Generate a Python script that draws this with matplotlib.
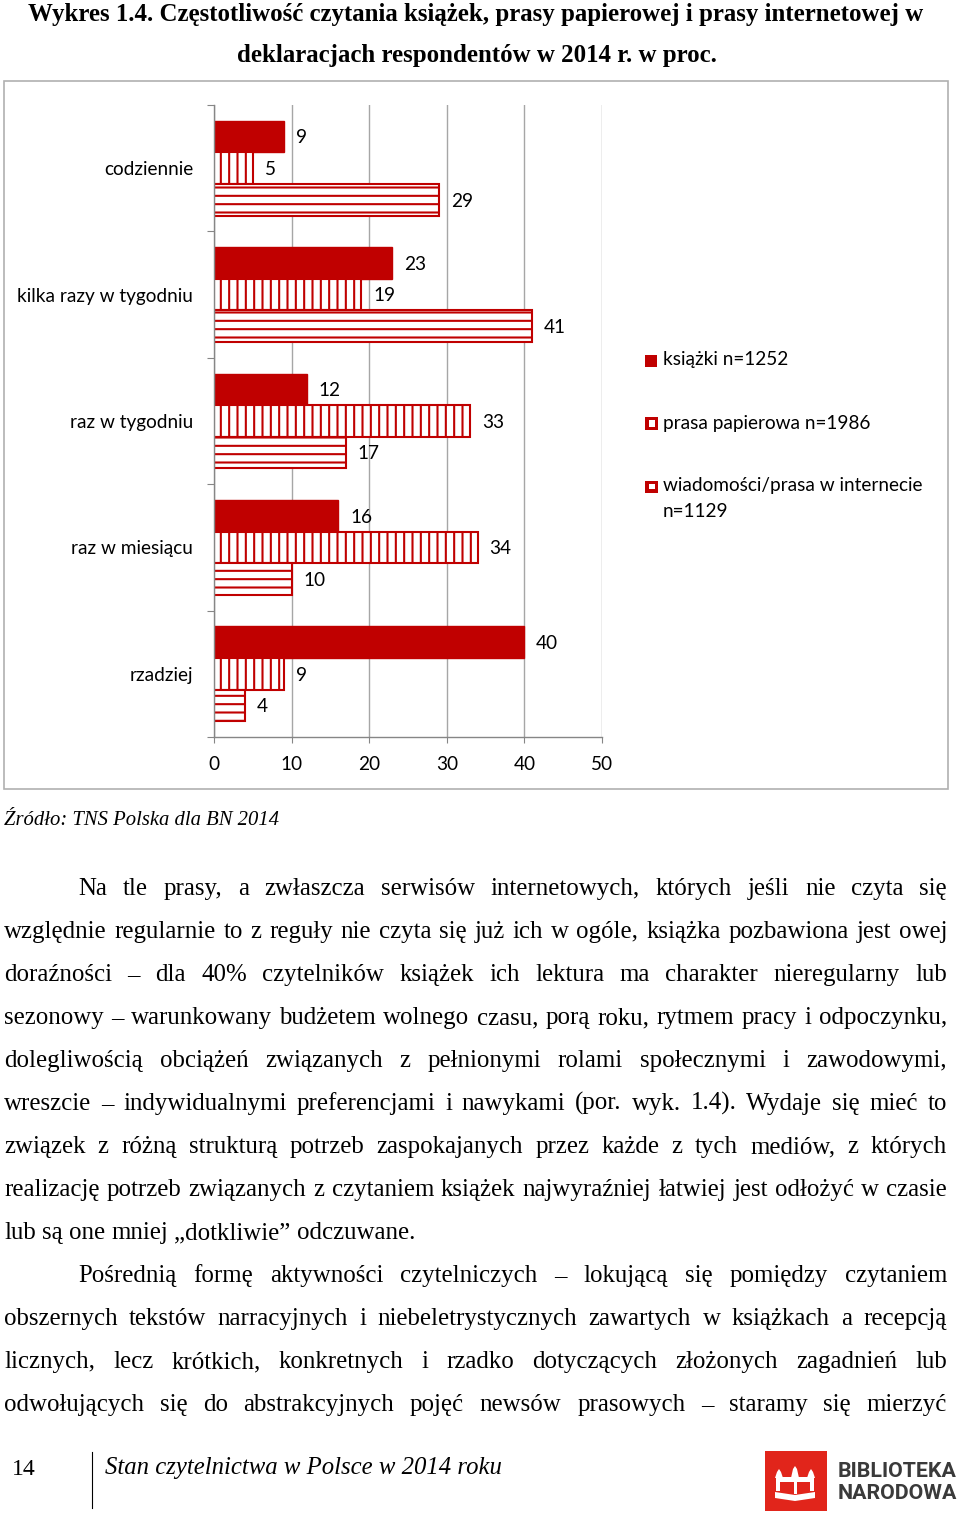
import matplotlib
matplotlib.use("Agg")
import matplotlib.pyplot as plt
from matplotlib.patches import Rectangle, Polygon
import numpy as np

# data
categories = ["codziennie", "kilka razy w tygodniu", "raz w tygodniu", "raz w miesiącu", "rzadziej"]
ksiazki = [9, 23, 12, 16, 40]
prasa = [5, 19, 33, 34, 9]
internet = [29, 41, 17, 10, 4]
series_labels = ["książki n=1252", "prasa papierowa n=1986", "wiadomości/prasa w internecie\nn=1129"]
x_ticks = [0, 10, 20, 30, 40, 50]

title_lines = ["Wykres 1.4. Częstotliwość czytania książek, prasy papierowej i prasy internetowej w",
               "deklaracjach respondentów w 2014 r. w proc."]
source = "Źródło: TNS Polska dla BN 2014"
body = [
    (True, True, "Na tle prasy, a zwłaszcza serwisów internetowych, których jeśli nie czyta się"),
    (False, True, "względnie regularnie to z reguły nie czyta się już ich w ogóle, książka pozbawiona jest owej"),
    (False, True, "doraźności – dla 40% czytelników książek ich lektura ma charakter nieregularny lub"),
    (False, True, "sezonowy – warunkowany budżetem wolnego czasu, porą roku, rytmem pracy i odpoczynku,"),
    (False, True, "dolegliwością obciążeń związanych z pełnionymi rolami społecznymi i zawodowymi,"),
    (False, True, "wreszcie – indywidualnymi preferencjami i nawykami (por. wyk. 1.4). Wydaje się mieć to"),
    (False, True, "związek z różną strukturą potrzeb zaspokajanych przez każde z tych mediów, z których"),
    (False, True, "realizację potrzeb związanych z czytaniem książek najwyraźniej łatwiej jest odłożyć w czasie"),
    (False, False, "lub są one mniej „dotkliwie” odczuwane."),
    (True, True, "Pośrednią formę aktywności czytelniczych – lokującą się pomiędzy czytaniem"),
    (False, True, "obszernych tekstów narracyjnych i niebeletrystycznych zawartych w książkach a recepcją"),
    (False, True, "licznych, lecz krótkich, konkretnych i rzadko dotyczących złożonych zagadnień lub"),
    (False, True, "odwołujących się do abstrakcyjnych pojęć newsów prasowych – staramy się mierzyć"),
]
footer_page = "14"
footer_title = "Stan czytelnictwa w Polsce w 2014 roku"
logo_lines = ["BIBLIOTEKA", "NARODOWA"]

RED = "#C00000"
W, H = 960, 1513
plt.rcParams["hatch.linewidth"] = 1.5

fig = plt.figure(figsize=(W / 100, H / 100), dpi=100)
fig.patch.set_facecolor("white")
renderer = fig.canvas.get_renderer()


def px(x, y):
    return x / W, 1 - y / H


def rect(x0, y0, x1, y1, **kw):
    r = Rectangle(px(x0, y1), (x1 - x0) / W, (y1 - y0) / H, transform=fig.transFigure, **kw)
    fig.add_artist(r)
    return r


def text_width(s, **kw):
    t = fig.text(0, 0, s, **kw)
    w = t.get_window_extent(renderer).width
    t.remove()
    return w


def fit_size(s, target, **kw):
    return 10 * target / text_width(s, fontsize=10, **kw)


# chart frame
rect(4, 81, 948, 789, facecolor="none", edgecolor="#B0B0B0", lw=1.2)

chart_font = "Lato"
cs = fit_size("kilka razy w tygodniu", 176, family=chart_font)

ax = fig.add_axes([214 / W, 1 - 737 / H, (602 - 214) / W, (737 - 105) / H])
y = np.arange(len(categories))
h = 0.25
ax.barh(y - h, ksiazki, height=h, color=RED, edgecolor=RED, lw=1.0)
ax.barh(y, prasa, height=h, facecolor="white", edgecolor=RED, hatch="||", lw=1.5)
ax.barh(y + h, internet, height=h, facecolor="white", edgecolor=RED, hatch="--", lw=1.5)

for vals, off in [(ksiazki, -h), (prasa, 0), (internet, h)]:
    for yi, v in zip(y, vals):
        ax.annotate(str(v), (v, yi + off), xytext=(8.5, -1), textcoords="offset points",
                    ha="left", va="center", fontsize=cs, family=chart_font)

ax.set_xlim(0, 50)
ax.set_ylim(4.5, -0.5)
ax.set_xticks(x_ticks)
ax.set_xticklabels([str(t) for t in x_ticks], fontsize=cs, family=chart_font)
ax.set_yticks(np.arange(-0.5, 5, 1))
ax.set_yticklabels([])
ax.set_yticks(y, minor=True)
ax.set_yticklabels(categories, minor=True, fontsize=cs, family=chart_font)
ax.tick_params(axis="y", which="minor", length=0, pad=15)
ax.tick_params(axis="y", which="major", length=5, color="#868686", direction="out")
ax.tick_params(axis="x", length=4.5, color="#868686", pad=9)
ax.grid(axis="x", color="#A6A6A6", lw=1.0)
ax.set_axisbelow(True)
for s in ["top", "right"]:
    ax.spines[s].set_visible(False)
for s in ["left", "bottom"]:
    ax.spines[s].set_color("#868686")
    ax.spines[s].set_linewidth(1.0)

# legend
rect(645, 355, 657, 367, facecolor=RED, edgecolor="none")
rect(645, 417, 658, 430, facecolor=RED, edgecolor="none")
rect(648.5, 420.5, 654.5, 426.5, facecolor="white", edgecolor="none")
rect(645, 481, 658, 493, facecolor=RED, edgecolor="none")
rect(648.5, 484.5, 654.5, 489.5, facecolor="white", edgecolor="none")
fig.text(*px(663, 360), series_labels[0], ha="left", va="center", fontsize=cs, family=chart_font)
fig.text(*px(663, 423), series_labels[1], ha="left", va="center", fontsize=cs, family=chart_font)
# two-line entry, first line level with its marker
fig.text(*px(663, 477), series_labels[2], ha="left", va="top", fontsize=cs, family=chart_font,
         linespacing=1.65)

# title
serif = "Liberation Serif"
ts = fit_size(title_lines[0], 898, family=serif, weight="bold")
fig.text(*px(476, 21), title_lines[0], ha="center", va="baseline", fontsize=ts, family=serif, weight="bold")
fig.text(*px(476.5, 62), title_lines[1], ha="center", va="baseline", fontsize=ts, family=serif, weight="bold")

# source
ss = fit_size(source, 276, family=serif, style="italic")
fig.text(*px(4, 825), source, ha="left", va="baseline", fontsize=ss, family=serif, style="italic")

# body text, justified
bs = fit_size("lub są one mniej „dotkliwie” odczuwane.", 411, family=serif)
space = text_width("a b", fontsize=bs, family=serif) - text_width("ab", fontsize=bs, family=serif)
for i, (indent, justify, line) in enumerate(body):
    words = line.split(" ")
    x0 = 78 if indent else 4
    x1 = 947
    yb = 895 + 43.0 * i
    widths = [text_width(w, fontsize=bs, family=serif) for w in words]
    gap = (x1 - x0 - sum(widths)) / (len(words) - 1) if justify else space
    x = x0
    for w, wd in zip(words, widths):
        fig.text(*px(x, yb), w, ha="left", va="baseline", fontsize=bs, family=serif)
        x += wd + gap

# footer
fig.text(*px(12, 1475), footer_page, ha="left", va="baseline", fontsize=bs * 0.95, family=serif)
fig.add_artist(plt.Line2D([92 / W, 92 / W], [1 - 1452 / H, 1 - 1508 / H], color="black", lw=0.8,
                          transform=fig.transFigure))
fs = fit_size(footer_title, 398, family=serif, style="italic")
fig.text(*px(105, 1474), footer_title, ha="left", va="baseline", fontsize=fs, family=serif, style="italic")

# logo
LOGO = "#E1251B"
rect(765, 1451, 827, 1511, facecolor=LOGO, edgecolor="none")
wk = dict(facecolor="white", edgecolor="none")
for cx, top in [(779, 1469), (795, 1466), (811, 1469)]:
    fig.add_artist(Polygon([px(cx - 4, 1478), px(cx - 2, top + 3), px(cx, top), px(cx + 2, top + 3),
                            px(cx + 4, 1478)], closed=True, transform=fig.transFigure, **wk))
rect(776, 1477, 814, 1482, **wk)
rect(776, 1482, 780, 1491, **wk)
rect(810, 1482, 814, 1491, **wk)
rect(793.5, 1482, 796.5, 1494, **wk)
fig.add_artist(Polygon([px(775, 1492), px(795, 1495), px(815, 1492), px(815, 1498), px(795, 1501), px(775, 1498)],
                       closed=True, transform=fig.transFigure, **wk))
ls = fit_size(logo_lines[0], 119, family="Roboto", weight="bold")
fig.text(*px(838, 1477), logo_lines[0], ha="left", va="baseline", fontsize=ls, family="Roboto",
         weight="bold", color="#3A3A3A")
fig.text(*px(838, 1499), logo_lines[1], ha="left", va="baseline", fontsize=ls, family="Roboto",
         weight="bold", color="#3A3A3A")

fig.savefig("out.png", dpi=100, facecolor="white")
